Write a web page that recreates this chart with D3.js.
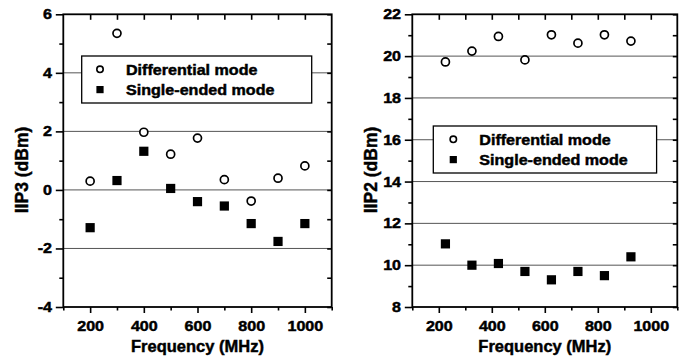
<!DOCTYPE html>
<html>
<head>
<meta charset="utf-8">
<script src="https://cdn.jsdelivr.net/npm/d3@7"></script>
<style>
  html, body { margin: 0; padding: 0; background: #fff; }
  svg { display: block; }
  text { font-family: "Liberation Sans", Arial, Helvetica, sans-serif; font-weight: bold; fill: #000; stroke: #000; stroke-width: 0.45px; }
</style>
</head>
<body>
<svg id="chart" width="688" height="358"></svg>
<script>
// ---- data ----
const iip3Freq = [200, 300, 400, 500, 600, 700, 800, 900, 1000];
const iip3Diff = [0.3, 5.35, 1.97, 1.22, 1.77, 0.35, -0.38, 0.4, 0.82];
const iip3Single = [-1.29, 0.32, 1.32, 0.05, -0.4, -0.55, -1.15, -1.76, -1.15];

const iip2Freq = [225, 325, 425, 525, 625, 725, 825, 925];
const iip2Diff = [19.72, 20.24, 20.94, 19.82, 21.02, 20.62, 21.02, 20.72];
const iip2Single = [11.02, 10.0, 10.08, 9.7, 9.3, 9.7, 9.5, 10.4];

const xTicks = [200, 400, 600, 800, 1000];
const iip3Ticks = [-4, -2, 0, 2, 4, 6];
const iip2Ticks = [8, 10, 12, 14, 16, 18, 20, 22];

const legendLabels = ["Differential mode", "Single-ended mode"];

const svg = d3.select('#chart');
svg.append('rect').attr('width', 688).attr('height', 358).attr('fill', '#fff');

// plain hyphen for negatives, like the figure
const fmt = d => String(d);

function drawPanel(cfg) {
    const x = d3.scaleLinear().domain([100, 1100]).range([cfg.left, cfg.right]);
    const y = d3.scaleLinear().domain(cfg.yDomain).range([cfg.bottom, cfg.top]);

    const g = svg.append('g');

    // minor tick positions, halfway between majors
    const xMinor = d3.range(100, 1101, 100).filter(v => !xTicks.includes(v));
    const yMinor = cfg.yTicks.slice(1).map((v, i) => (v + cfg.yTicks[i]) / 2);

    // horizontal grid lines at inner majors
    g.append('g')
        .selectAll('line')
        .data(cfg.yTicks.slice(1, -1))
        .enter()
        .append('line')
        .attr('x1', cfg.left).attr('x2', cfg.right)
        .attr('y1', d => y(d)).attr('y2', d => y(d))
        .attr('stroke', '#555')
        .attr('stroke-width', 1);

    // axes
    const bottom = g.append('g').attr('transform', `translate(0,${cfg.bottom})`)
        .call(d3.axisBottom(x).tickValues(xTicks).tickSize(6).tickFormat(fmt));
    bottom.selectAll('text')
        .attr('y', 14.5)
        .attr('font-size', 14)
        .attr('transform', 'scale(1.15,1)');
    g.append('g').attr('transform', `translate(0,${cfg.bottom})`)
        .call(d3.axisBottom(x).tickValues(xMinor).tickSize(3.5).tickFormat(''));

    g.append('g').attr('transform', `translate(0,${cfg.top})`)
        .call(d3.axisTop(x).tickValues(d3.range(200, 1001, 100)).tickSize(-5.5).tickFormat(''));

    const left = g.append('g').attr('transform', `translate(${cfg.left},0)`)
        .call(d3.axisLeft(y).tickValues(cfg.yTicks).tickSize(7.5).tickFormat(fmt));
    left.selectAll('text')
        .attr('x', -9.8)
        .attr('font-size', 14)
        .attr('transform', 'scale(1.15,1)');
    g.append('g').attr('transform', `translate(${cfg.left},0)`)
        .call(d3.axisLeft(y).tickValues(yMinor).tickSize(4).tickFormat(''));

    g.append('g').attr('transform', `translate(${cfg.right},0)`)
        .call(d3.axisRight(y).tickValues(cfg.yTicks.concat(yMinor)).tickSize(-4.5).tickFormat(''));

    g.selectAll('.domain').remove();
    g.selectAll('.tick line').attr('stroke', '#000').attr('stroke-width', 1.6);

    // frame
    g.append('rect')
        .attr('x', cfg.left).attr('y', cfg.top)
        .attr('width', cfg.right - cfg.left).attr('height', cfg.bottom - cfg.top)
        .attr('fill', 'none').attr('stroke', '#000').attr('stroke-width', 1.8);

    // axis titles
    g.append('text')
        .attr('x', (cfg.left + cfg.right) / 2)
        .attr('y', 352)
        .attr('text-anchor', 'middle')
        .attr('font-size', 16.5)
        .text('Frequency (MHz)');
    g.append('text')
        .attr('transform', `translate(${cfg.left - 35.5},170) rotate(-90)`)
        .attr('text-anchor', 'middle')
        .attr('font-size', 17.5)
        .text(cfg.yTitle);

    // legend
    const lg = g.append('g').attr('transform', `translate(${cfg.legend.x},${cfg.legend.y})`);
    lg.append('rect')
        .attr('width', cfg.legend.w).attr('height', 47)
        .attr('fill', '#fff').attr('stroke', '#000').attr('stroke-width', 1.3);
    lg.append('circle')
        .attr('cx', cfg.legend.mx).attr('cy', 13.3).attr('r', 3.2)
        .attr('fill', '#fff').attr('stroke', '#000').attr('stroke-width', 1.6);
    lg.append('rect')
        .attr('x', cfg.legend.mx - 3.6).attr('y', 30).attr('width', 7.2).attr('height', 7.2)
        .attr('fill', '#000');
    lg.selectAll('text.leg')
        .data(legendLabels)
        .enter()
        .append('text')
        .attr('class', 'leg')
        .attr('transform', (d, i) => `translate(${cfg.legend.tx},${18.5 + i * 20.7}) scale(1.15,1)`)
        .attr('font-size', 14)
        .text(d => d);

    // data
    const pts = cfg.freq.map((f, i) => ({ f, d: cfg.diff[i], s: cfg.single[i] }));
    g.append('g')
        .selectAll('rect')
        .data(pts)
        .enter()
        .append('rect')
        .attr('x', d => x(d.f) - 4.6)
        .attr('y', d => y(d.s) - 4.6)
        .attr('width', 9.2).attr('height', 9.2)
        .attr('fill', '#000');
    g.append('g')
        .selectAll('circle')
        .data(pts)
        .enter()
        .append('circle')
        .attr('cx', d => x(d.f))
        .attr('cy', d => y(d.d))
        .attr('r', 4)
        .attr('fill', '#fff')
        .attr('stroke', '#000')
        .attr('stroke-width', 1.7);
}

drawPanel({
    left: 63.3, right: 331.7, top: 14.3, bottom: 307,
    yDomain: [-4, 6], yTicks: iip3Ticks, yTitle: 'IIP3 (dBm)',
    freq: iip3Freq, diff: iip3Diff, single: iip3Single,
    legend: { x: 81.7, y: 56, w: 230, mx: 18.3, tx: 44.3 }
});

drawPanel({
    left: 412.3, right: 677.3, top: 14.3, bottom: 307,
    yDomain: [8, 22], yTicks: iip2Ticks, yTitle: 'IIP2 (dBm)',
    freq: iip2Freq, diff: iip2Diff, single: iip2Single,
    legend: { x: 433.3, y: 126, w: 223.3, mx: 20, tx: 46 }
});
</script>
</body>
</html>
